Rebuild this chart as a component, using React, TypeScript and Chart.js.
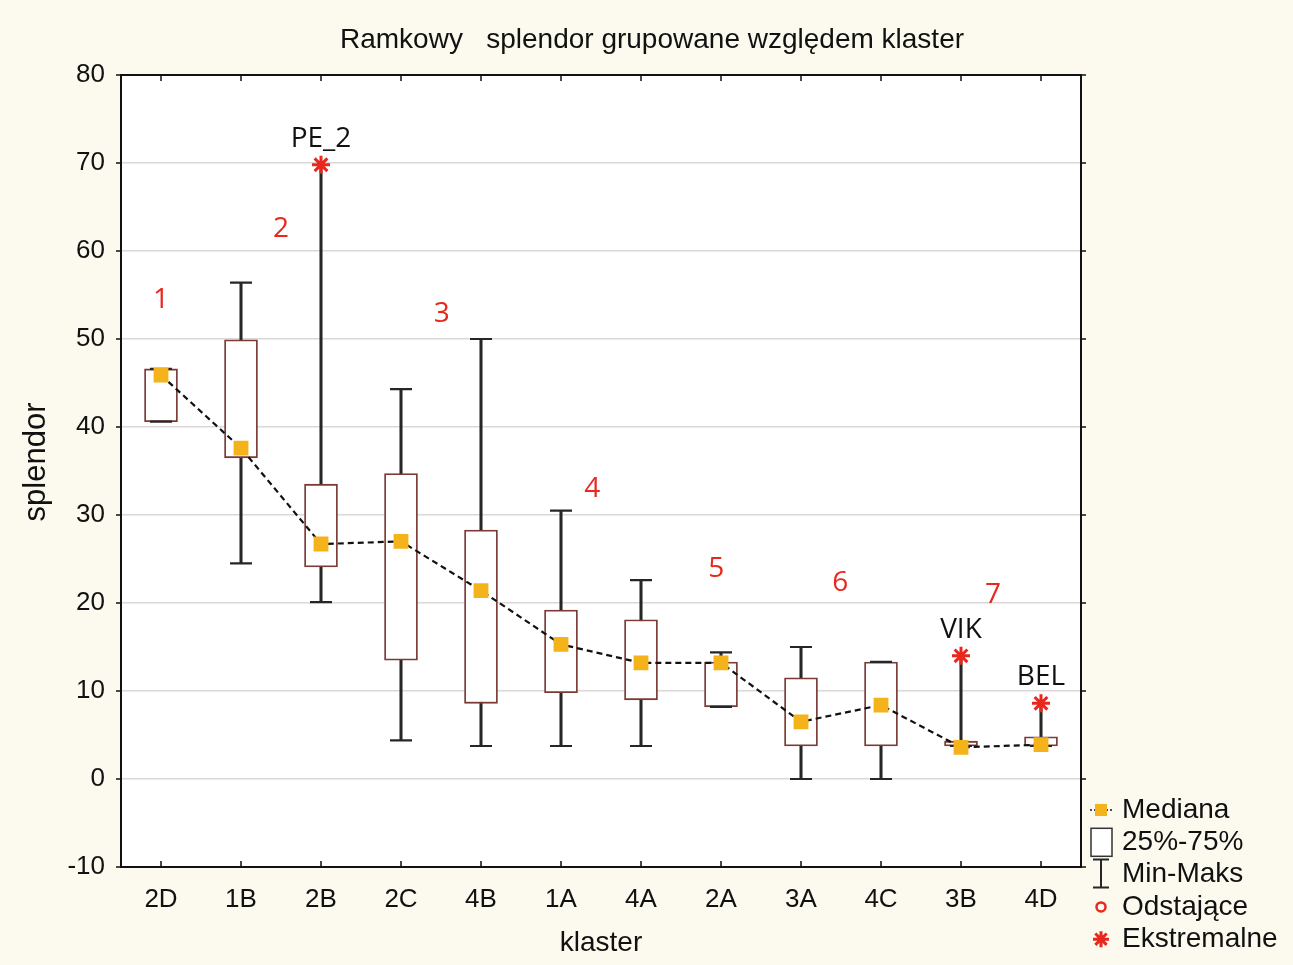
import React, { useEffect, useRef } from "react";
import { Chart, registerables } from "chart.js";

Chart.register(...registerables);

const categories = ["2D", "1B", "2B", "2C", "4B", "1A", "4A", "2A", "3A", "4C", "3B", "4D"];
const minVals = [40.6, 24.5, 20.1, 4.4, 3.75, 3.75, 3.75, 8.2, 0, 0, 3.75, 3.75];
const q1Vals = [40.6, 36.5, 24.1, 13.5, 8.6, 9.8, 9.0, 8.2, 3.75, 3.75, 3.75, 3.75];
const medianVals = [45.9, 37.6, 26.7, 27.0, 21.4, 15.3, 13.2, 13.2, 6.5, 8.4, 3.6, 3.9];
const q3Vals = [46.6, 49.9, 33.5, 34.7, 28.3, 19.2, 18.1, 13.3, 11.5, 13.3, 4.3, 4.8];
const maxVals = [46.6, 56.4, 69.8, 44.3, 50.0, 30.5, 22.6, 14.4, 15.0, 13.3, 14.0, 8.6];
const extremeVals = [null, null, 69.8, null, null, null, null, null, null, null, 14.0, 8.6];
const extremeNames = ["", "", "PE_2", "", "", "", "", "", "", "", "VIK", "BEL"];
const groupLabels = ["1", "2", "3", "4", "5", "6", "7"];
const groupPosX = [0, 1.5, 3.51, 5.39, 6.94, 8.49, 10.4];
const groupPosY = [54.4, 62.5, 52.8, 33.0, 23.9, 22.3, 20.9];
const yTicks = [-10, 0, 10, 20, 30, 40, 50, 60, 70, 80];

const legendItems = ["Mediana", "25%-75%", "Min-Maks", "Odstające", "Ekstremalne"];

const BG = "#fcf9ee";
const BOX = "#7a3a35";
const WHISK = "#262626";
const RED = "#e8281e";
const MED = "#f4b21b";
const FONT = '"Liberation Sans", Arial, sans-serif';
const FONT2 = '"Open Sans", "Noto Sans", sans-serif';

const decorPlugin = {
  id: "decor",
  beforeDraw(chart: any) {
    const { ctx, chartArea: a } = chart;
    ctx.save();
    ctx.fillStyle = BG;
    ctx.fillRect(0, 0, chart.width, chart.height);
    ctx.fillStyle = "#ffffff";
    ctx.fillRect(a.left, a.top, a.right - a.left, a.bottom - a.top);
    ctx.restore();
  },
  afterDatasetsDraw(chart: any) {
    const { ctx, scales } = chart;
    const xs = scales.x;
    const ys = scales.y;
    ctx.save();
    ctx.fillStyle = RED;
    ctx.font = `28px ${FONT2}`;
    ctx.textAlign = "center";
    ctx.textBaseline = "middle";
    groupLabels.forEach((t, i) => {
      ctx.fillText(t, xs.getPixelForValue(groupPosX[i]), ys.getPixelForValue(groupPosY[i]));
    });
    ctx.fillStyle = "#111";
    ctx.font = `28px ${FONT2}`;
    extremeNames.forEach((t, i) => {
      const v = extremeVals[i];
      if (!t || v == null) return;
      ctx.fillText(t, xs.getPixelForValue(i), ys.getPixelForValue(v) - 26);
    });
    ctx.restore();
  },
  afterDraw(chart: any) {
    const { ctx, chartArea: a, scales } = chart;
    const xs = scales.x;
    const ys = scales.y;
    ctx.save();
    ctx.strokeStyle = "#111";
    ctx.lineWidth = 2;
    ctx.strokeRect(a.left, a.top, a.right - a.left, a.bottom - a.top);
    ctx.lineWidth = 1.5;
    ctx.beginPath();
    categories.forEach((_, i) => {
      const px = xs.getPixelForValue(i);
      ctx.moveTo(px, a.top);
      ctx.lineTo(px, a.top + 6);
      ctx.moveTo(px, a.bottom);
      ctx.lineTo(px, a.bottom - 6);
    });
    yTicks.forEach((v) => {
      const py = ys.getPixelForValue(v);
      ctx.moveTo(a.left - 5, py);
      ctx.lineTo(a.left, py);
      ctx.moveTo(a.right, py);
      ctx.lineTo(a.right + 5, py);
    });
    ctx.stroke();

    ctx.fillStyle = "#111";
    ctx.font = `28px ${FONT}`;
    ctx.textAlign = "center";
    ctx.textBaseline = "middle";
    ctx.fillText("Ramkowy   splendor grupowane względem klaster", 652, 40);
    ctx.font = `28px ${FONT}`;
    ctx.fillText("klaster", (a.left + a.right) / 2, 943);
    ctx.save();
    ctx.translate(36, 462);
    ctx.rotate(-Math.PI / 2);
    ctx.font = `31px ${FONT}`;
    ctx.fillText("splendor", 0, 0);
    ctx.restore();

    const lx = a.right + 20;
    const ly0 = 810;
    const step = 32.3;
    ctx.textAlign = "left";
    ctx.font = `28px ${FONT}`;
    legendItems.forEach((t, i) => {
      ctx.fillStyle = "#111";
      ctx.fillText(t, lx + 21, ly0 + i * step);
    });
    let y = ly0;
    ctx.strokeStyle = "#111";
    ctx.lineWidth = 1.5;
    ctx.setLineDash([2, 2]);
    ctx.beginPath();
    ctx.moveTo(lx - 11, y);
    ctx.lineTo(lx + 13, y);
    ctx.stroke();
    ctx.setLineDash([]);
    ctx.fillStyle = MED;
    ctx.fillRect(lx - 6, y - 6, 12, 12);
    y = ly0 + step;
    ctx.fillStyle = "#fff";
    ctx.fillRect(lx - 10, y - 14, 21, 28);
    ctx.strokeStyle = "#333";
    ctx.lineWidth = 1.5;
    ctx.strokeRect(lx - 10, y - 14, 21, 28);
    y = ly0 + 2 * step;
    ctx.strokeStyle = WHISK;
    ctx.lineWidth = 2;
    ctx.beginPath();
    ctx.moveTo(lx, y - 15);
    ctx.lineTo(lx, y + 13);
    ctx.moveTo(lx - 8, y - 15);
    ctx.lineTo(lx + 8, y - 15);
    ctx.moveTo(lx - 8, y + 13);
    ctx.lineTo(lx + 8, y + 13);
    ctx.stroke();
    y = ly0 + 3 * step;
    ctx.strokeStyle = RED;
    ctx.lineWidth = 2.5;
    ctx.beginPath();
    ctx.arc(lx, y, 4.5, 0, Math.PI * 2);
    ctx.stroke();
    y = ly0 + 4 * step;
    ctx.lineWidth = 3;
    ctx.beginPath();
    const r = 8;
    for (let k = 0; k < 4; k++) {
      const ang = (k * Math.PI) / 4;
      ctx.moveTo(lx - r * Math.cos(ang), y - r * Math.sin(ang));
      ctx.lineTo(lx + r * Math.cos(ang), y + r * Math.sin(ang));
    }
    ctx.stroke();
    ctx.restore();
  },
};

export default function App() {
  const ref = useRef<HTMLCanvasElement | null>(null);
  useEffect(() => {
    document.body.style.margin = "0";
    document.body.style.background = BG;
    const canvas = ref.current;
    if (!canvas) return;
    const capHigh = maxVals.map((v, i) => (extremeVals[i] == null ? v : null));
    const chart = new Chart(canvas, {
      type: "bar",
      data: {
        labels: categories,
        datasets: [
          {
            type: "line",
            label: "Ekstremalne",
            data: extremeVals as any,
            showLine: false,
            pointStyle: "star",
            pointRadius: 9,
            pointBorderWidth: 3,
            pointBorderColor: RED,
            pointBackgroundColor: RED,
            order: 1,
          },
          {
            type: "line",
            label: "Mediana",
            data: medianVals,
            borderColor: "#111",
            borderWidth: 2.2,
            borderDash: [6, 4],
            tension: 0,
            pointStyle: "rect",
            pointRadius: 10.5,
            pointBorderWidth: 0,
            pointBackgroundColor: MED,
            pointBorderColor: MED,
            order: 2,
          },
          {
            type: "line",
            label: "capLow",
            data: minVals,
            showLine: false,
            pointStyle: "line",
            pointRadius: 11,
            pointBorderWidth: 2.2,
            pointBorderColor: WHISK,
            order: 3,
          },
          {
            type: "line",
            label: "capHigh",
            data: capHigh as any,
            showLine: false,
            pointStyle: "line",
            pointRadius: 11,
            pointBorderWidth: 2.2,
            pointBorderColor: WHISK,
            order: 3,
          },
          {
            type: "bar",
            label: "25%-75%",
            data: categories.map((_, i) => [q1Vals[i], q3Vals[i]]) as any,
            backgroundColor: "#ffffff",
            borderColor: BOX,
            borderWidth: 1.8,
            borderSkipped: false,
            barThickness: 33,
            grouped: false,
            order: 4,
          },
          {
            type: "bar",
            label: "Min-Maks",
            data: categories.map((_, i) => [minVals[i], maxVals[i]]) as any,
            backgroundColor: WHISK,
            borderWidth: 0,
            barThickness: 2.4,
            grouped: false,
            order: 5,
          },
        ],
      },
      options: {
        responsive: false,
        animation: false,
        events: [],
        layout: { padding: { left: 0, top: 75, right: 212, bottom: 0 } },
        plugins: {
          legend: { display: false },
          title: { display: false },
          tooltip: { enabled: false },
        },
        scales: {
          x: {
            offset: true,
            grid: { display: false, drawTicks: false },
            border: { display: false },
            ticks: {
              color: "#111",
              font: { family: FONT, size: 26 },
              padding: 17,
            },
            afterFit: (s: any) => {
              s.height = 98;
            },
          },
          y: {
            min: -10,
            max: 80,
            grid: { color: "#ddd7d7", lineWidth: 1.5, drawTicks: false },
            border: { display: false },
            ticks: {
              stepSize: 10,
              color: "#111",
              font: { family: FONT, size: 26 },
              padding: 16,
            },
            afterFit: (s: any) => {
              s.width = 121;
            },
          },
        },
      },
      plugins: [decorPlugin],
    });
    return () => chart.destroy();
  }, []);
  return <canvas ref={ref} width={1293} height={965} style={{ display: "block" }} />;
}
